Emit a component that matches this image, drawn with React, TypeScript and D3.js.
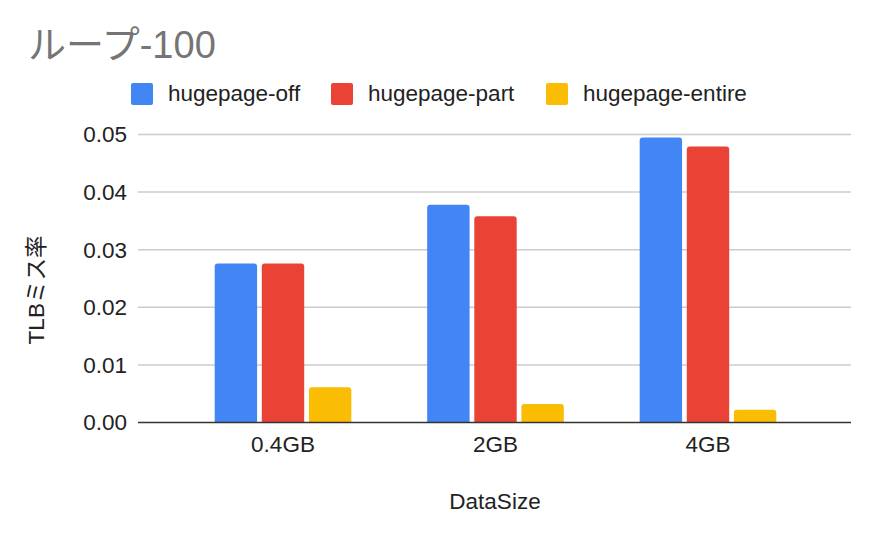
import * as d3 from "d3";

const title = "ループ-100";
const categories = ["0.4GB", "2GB", "4GB"];
const seriesNames = ["hugepage-off", "hugepage-part", "hugepage-entire"];
const seriesColors = ["#4285f4", "#ea4335", "#fbbc04"];
const hugepageOff = [0.0276, 0.0378, 0.0495];
const hugepagePart = [0.0276, 0.0358, 0.0479];
const hugepageEntire = [0.0061, 0.0032, 0.0022];
const yTicks = [0, 0.01, 0.02, 0.03, 0.04, 0.05];

const seriesValues = [hugepageOff, hugepagePart, hugepageEntire];

const width = 879;
const height = 540;
const font = "'Liberation Sans', Arial, 'Noto Sans CJK JP', sans-serif";

export default function App() {
  const left = 138;
  const right = 851;
  const top = 134.5;
  const bottom = 422.5;

  const x = d3
    .scaleBand()
    .domain(categories)
    .range([140, right])
    .paddingInner(0.357)
    .paddingOuter(0.3515);

  const inner = d3
    .scaleBand()
    .domain(seriesNames)
    .range([0, x.bandwidth()])
    .paddingInner(0.1);

  const y = d3.scaleLinear().domain([0, 0.05]).range([bottom, top]);

  const legendX = [131, 331, 546];

  const barPath = (x0: number, y0: number, w: number, h: number, r: number) => {
    const rr = Math.min(r, h / 2, w / 2);
    return `M${x0},${y0 + h}V${y0 + rr}Q${x0},${y0} ${x0 + rr},${y0}H${x0 + w - rr}Q${x0 + w},${y0} ${x0 + w},${y0 + rr}V${y0 + h}Z`;
  };

  return (
    <svg
      width={width}
      height={height}
      style={{ position: "absolute", left: 0, top: 0, background: "#fff" }}
      fontFamily={font}
    >
      <text x={28} y={58} fontSize={38} fill="#757575">
        {title}
      </text>

      {seriesNames.map((s, i) => (
        <g key={s}>
          <rect x={legendX[i]} y={83} width={22} height={22} rx={2} fill={seriesColors[i]} />
          <text x={legendX[i] + 37} y={101} fontSize={22.5} fill="#222">
            {s}
          </text>
        </g>
      ))}

      {yTicks.map((t) => (
        <g key={t}>
          {t !== 0 && (
            <line x1={left} x2={right} y1={y(t)} y2={y(t)} stroke="#cccccc" strokeWidth={1.5} />
          )}
          <text x={127} y={y(t)} dy="0.35em" textAnchor="end" fontSize={22.5} fill="#222">
            {t.toFixed(2)}
          </text>
        </g>
      ))}

      {categories.map((c, ci) => (
        <g key={c} transform={`translate(${x(c)},0)`}>
          {seriesNames.map((s, si) => {
            const v = seriesValues[si][ci];
            const bx = inner(s) as number;
            return (
              <path
                key={s}
                d={barPath(bx, y(v), inner.bandwidth(), y(0) - y(v), 3)}
                fill={seriesColors[si]}
              />
            );
          })}
          <text
            x={x.bandwidth() / 2}
            y={452}
            textAnchor="middle"
            fontSize={22.5}
            fill="#222"
          >
            {c}
          </text>
        </g>
      ))}

      <line x1={left} x2={right} y1={bottom} y2={bottom} stroke="#333" strokeWidth={1.5} />

      <text x={495} y={509} textAnchor="middle" fontSize={22.5} fill="#222">
        DataSize
      </text>
      <text
        transform={`translate(44,290) rotate(-90)`}
        textAnchor="middle"
        fontSize={22.5}
        fill="#222"
      >
        TLBミス率
      </text>
    </svg>
  );
}
